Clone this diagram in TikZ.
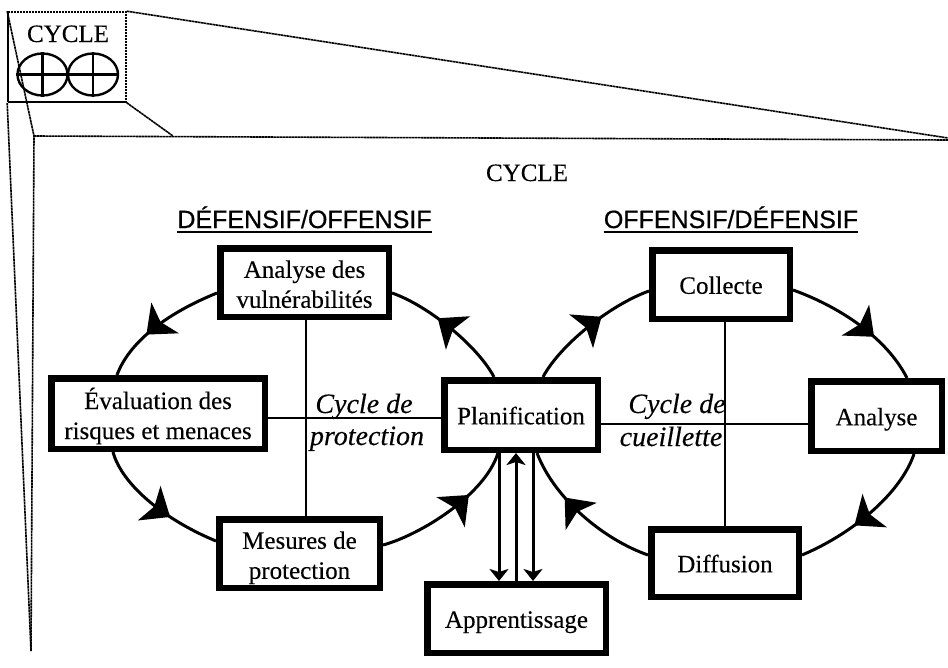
\documentclass[tikz,border=0pt]{standalone}
\usepackage{fontspec}
\setmainfont[FakeBold=0.25]{Liberation Serif}
\newfontfamily\headfont[FakeBold=0.7]{Liberation Sans}
\usetikzlibrary{arrows.meta,calc,decorations.markings,shapes.geometric}
\newcommand{\boxtext}[2][9.5pt]{\raisebox{-#1}[0pt][0pt]{\begin{tabular}{@{}c@{}}#2\end{tabular}}}
\tikzset{
  x=1pt,y=-1pt,
  boxnode/.style={draw=black,fill=white,line width=6.5pt,rectangle,inner sep=0pt,align=center,
    font=\fontsize{25}{30}\selectfont,text=black,minimum width=#1-6.5pt},
  framing/.style={line width=1.6pt,dash pattern=on 2.5pt off .5pt},
  cycarrow/.style={line width=3pt,postaction={decorate},decoration={markings,
    mark=at position #1 with {\arrow{Stealth[length=25pt,width=41pt,inset=6pt]}}}},
  axis/.style={line width=2.4pt},
  flow/.style={line width=3pt,-{Stealth[length=12pt,width=19pt,inset=3pt]}},
  label/.style={font=\fontsize{25}{33}\selectfont,inner sep=0pt,anchor=base},
  italiclabel/.style={font=\fontsize{28}{33}\selectfont\itshape,inner sep=0pt,anchor=base},
  heading/.style={font=\fontsize{25}{30}\selectfont\headfont,inner sep=0pt,anchor=base},
  headrule/.style={line width=2.4pt},
  lobe/.style={ellipse,draw=black,line width=2.4pt,minimum width=50pt,minimum height=42pt,inner sep=0pt}
}
\begin{document}
\begin{tikzpicture}
\path[use as bounding box,fill=white] (0,0) rectangle (948,667);
% frame
\node[draw=black,framing,rectangle,minimum width=118pt,minimum height=90pt,inner sep=0pt] (thumb) at (67,57) {};
\coordinate (topright) at (948,138);
\coordinate (sideright) at (948,140);
\coordinate (corner) at (34,136);
\coordinate (edge) at (173,136);
\coordinate (foot) at (31,651);
\draw[framing] (thumb.north east) -- (topright);
\draw[framing] (thumb.south east) -- (edge);
\draw[framing] (corner) -- (sideright);
\draw[framing] (thumb.north west) -- (corner) -- (foot);
\draw[framing] (thumb.south west) -- (foot);
% icon
\node[label] (smallcycle) at (68,42) {CYCLE};
\node[lobe] (lobeA) at (42.5,74.5) {};
\node[lobe] (lobeB) at (93,74.5) {};
\draw[line width=2.4pt] (lobeA.west) -- (lobeB.east);
\draw[line width=2.4pt] (lobeA.north) -- (lobeA.south);
\draw[line width=2.4pt] (lobeB.north) -- (lobeB.south);
% titles
\node[label] (title) at (527,181) {CYCLE};
\node[heading] (headL) at (304.5,228) {DÉFENSIF/OFFENSIF};
\node[heading] (headR) at (731,228) {OFFENSIF/DÉFENSIF};
\draw[headrule] ($(headL.base west)+(0,4)$) -- ($(headL.base east)+(0,4)$);
\draw[headrule] ($(headR.base west)+(0,4)$) -- ($(headR.base east)+(0,4)$);
% boxes
\tikzset{box/.style 2 args={boxnode=#1,minimum height=#2-6.5pt}}
\node[box={175pt}{75pt}] (an) at (304.5,282.5) {\boxtext[10.5pt]{Analyse des\\vulnérabilités}};
\node[box={220pt}{77pt}] (ev) at (158,413.5) {\boxtext[10.5pt]{Évaluation des\\risques et menaces}};
\node[box={167pt}{75pt}] (me) at (299.5,553.5) {\boxtext[10.5pt]{Mesures de\\protection}};
\node[box={160pt}{76pt}] (pl) at (521,415) {\boxtext{Planification}};
\node[box={185pt}{75pt}] (ap) at (516.5,618.5) {\boxtext{Apprentissage}};
\node[box={144pt}{75pt}] (co) at (721,284.5) {\boxtext{Collecte}};
\node[box={137pt}{76pt}] (na) at (876.5,416) {\boxtext{Analyse}};
\node[box={154pt}{74pt}] (di) at (725,563) {\boxtext{Diffusion}};
% axes
\draw[axis] ($(an.south)+(1.5,0)$) -- ($(me.north)+(6.5,0)$);
\draw[axis] ($(co.south)+(4,0)$) -- ($(di.north)+(0,0)$);
\draw[axis] ($(ev.east)+(0,4.5)$) -- ($(pl.west)+(0,3)$);
\draw[axis] ($(pl.east)+(0,9)$) -- ($(na.west)+(0,8)$);
% cycle
\draw[cycarrow=0.62] ($(an.west)+(0,10.5)$) .. controls (170,312) and (130,340) .. ($(ev.north)+(-41,0)$);
\draw[cycarrow=0.63] ($(ev.south)+(-45,0)$) .. controls (122,485) and (165,520) .. ($(me.west)+(0,-12.5)$);
\draw[cycarrow=0.66] ($(me.east)+(0,-8.5)$) .. controls (420,535) and (485,495) .. ($(pl.south)+(-23,0)$);
\draw[cycarrow=0.61] ($(pl.north)+(-27,0)$) .. controls (477,345) and (427,305) .. ($(an.east)+(0,10.5)$);
\draw[cycarrow=0.61] ($(pl.north)+(22,0)$) .. controls (560,345) and (610,305) .. ($(co.west)+(0,6.5)$);
\draw[cycarrow=0.64] ($(co.east)+(0,5.5)$) .. controls (835,305) and (885,335) .. ($(na.north)+(30.5,0)$);
\draw[cycarrow=0.61] ($(na.south)+(37.5,0)$) .. controls (900,495) and (850,535) .. ($(di.east)+(0,-8)$);
\draw[cycarrow=0.66] ($(di.west)+(0,-8)$) .. controls (605,540) and (555,500) .. ($(pl.south)+(16,0)$);
% flows
\coordinate (flowA) at (499,0);
\coordinate (flowB) at (516,0);
\coordinate (flowC) at (533,0);
\draw[flow] (pl.south -| flowA) -- (ap.north -| flowA);
\draw[flow] (ap.north -| flowB) -- (pl.south -| flowB);
\draw[flow] (pl.south -| flowC) -- (ap.north -| flowC);
% italic labels
\node[italiclabel] (cl1) at (364,413) {Cycle de};
\node[italiclabel] (cl2) at (367,445) {protection};
\node[italiclabel] (cr1) at (677,413) {Cycle de};
\node[italiclabel] (cr2) at (671,446) {cueillette};
\end{tikzpicture}
\end{document}
